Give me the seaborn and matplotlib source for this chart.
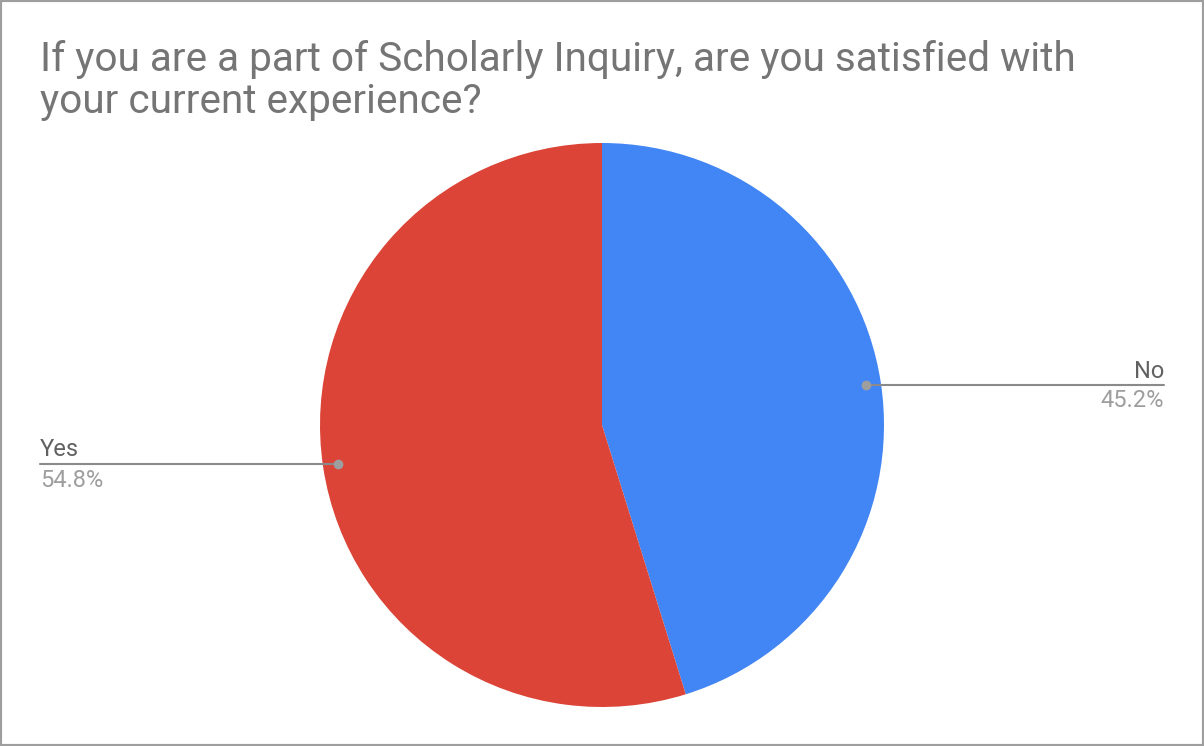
import matplotlib
matplotlib.use("Agg")
import matplotlib.pyplot as plt
import seaborn as sns
from matplotlib.patches import Rectangle

# survey answers
categories = ["No", "Yes"]
shares = [45.2, 54.8]
title = "If you are a part of Scholarly Inquiry, are you satisfied with\nyour current experience?"

sns.set_theme(style="white")
plt.rcParams["font.family"] = ["Roboto", "DejaVu Sans"]

W, H = 1204, 746
fig = plt.figure(figsize=(W / 100, H / 100), dpi=100)
ax = fig.add_axes([0, 0, 1, 1])

colors = ["#4285F4", "#DB4437"]
cx, cy, r = 602, H - 425, 282
ax.pie(shares, colors=colors, startangle=90, counterclock=False,
       center=(cx, cy), radius=r, frame=True,
       wedgeprops={"linewidth": 0})
ax.set_xlim(0, W)
ax.set_ylim(0, H)
ax.set_aspect("equal")
ax.axis("off")

# leader lines and labels
line_col = "#9E9E9E"
# No (right side)
ny = H - 385
ax.plot([866, 1164], [ny, ny], color="#8a8a8a", lw=1.5, zorder=3)
ax.plot(866, ny, "o", color=line_col, ms=6, zorder=4)
ax.text(1164, ny + 7, categories[0], ha="right", va="baseline",
        fontsize=17, color="#616161")
ax.text(1164, ny - 22, f"{shares[0]:.1f}%", ha="right", va="baseline",
        fontsize=17, color="#9E9E9E")
# Yes (left side)
yy = H - 464
ax.plot([40, 338], [yy, yy], color="#8a8a8a", lw=1.5, zorder=3)
ax.plot(338, yy, "o", color=line_col, ms=6, zorder=4)
ax.text(40, yy + 8, categories[1], ha="left", va="baseline",
        fontsize=17, color="#616161")
ax.text(40, yy - 23, f"{shares[1]:.1f}%", ha="left", va="baseline",
        fontsize=17, color="#9E9E9E")

# title
line1, line2 = title.split("\n")
fig.text(40 / W, 1 - 71 / H, line1, ha="left", va="baseline",
         fontsize=29.2, color="#757575")
fig.text(40 / W, 1 - 113 / H, line2, ha="left", va="baseline",
         fontsize=29.2, color="#757575")

# outer border
fig.patches.append(Rectangle((0, 0), 1, 1, transform=fig.transFigure,
                             fill=False, edgecolor="#9E9E9E", lw=3))

fig.savefig("out.png", dpi=100, facecolor="white")
